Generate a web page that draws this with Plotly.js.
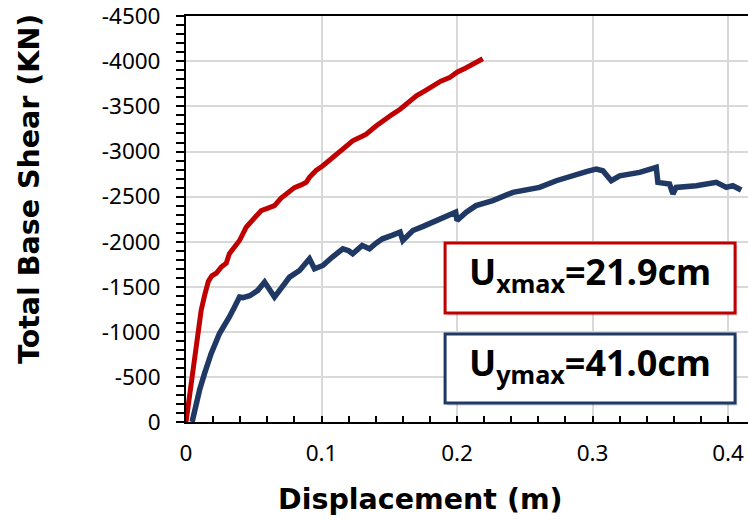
<!DOCTYPE html>
<html>
<head>
<meta charset="utf-8">
<script src="https://cdn.plot.ly/plotly-3.0.1.min.js"></script>
<style>html,body{margin:0;padding:0;background:#fff;}#chart{width:748px;height:520px;}</style>
</head>
<body>
<div id="chart"></div>
<script>
// Ux curve (red)
var uxDisp = [0, 0.0038, 0.0075, 0.0112, 0.0140, 0.0165, 0.0190, 0.0223, 0.0260, 0.0297, 0.0320, 0.0360, 0.0395, 0.0444, 0.0469, 0.0500, 0.0555, 0.0600, 0.0653, 0.0700, 0.0764, 0.0800, 0.0850, 0.0887, 0.0911, 0.0960, 0.1010, 0.1070, 0.1150, 0.1230, 0.1300, 0.1330, 0.1400, 0.1450, 0.1520, 0.1580, 0.1640, 0.1700, 0.1760, 0.1820, 0.1880, 0.1945, 0.2000, 0.2068, 0.2130, 0.2190];
var uxShear = [0, -430, -870, -1240, -1420, -1560, -1620, -1650, -1718, -1760, -1866, -1950, -2013, -2160, -2200, -2260, -2345, -2370, -2400, -2480, -2566, -2600, -2630, -2658, -2713, -2790, -2842, -2916, -3010, -3119, -3170, -3193, -3280, -3340, -3410, -3469, -3540, -3617, -3670, -3727, -3780, -3819, -3880, -3930, -3980, -4029];
// Uy curve (navy)
var uyDisp = [0.0045, 0.0070, 0.0100, 0.0137, 0.0186, 0.0247, 0.0280, 0.0320, 0.0360, 0.0395, 0.0420, 0.0444, 0.0470, 0.0493, 0.0530, 0.0580, 0.0615, 0.0653, 0.0700, 0.0764, 0.0838, 0.0911, 0.0948, 0.1010, 0.1080, 0.1157, 0.1200, 0.1230, 0.1300, 0.1354, 0.1400, 0.1450, 0.1520, 0.1580, 0.1600, 0.1674, 0.1750, 0.1820, 0.1900, 0.1990, 0.2000, 0.2068, 0.2140, 0.2264, 0.2412, 0.2500, 0.2609, 0.2732, 0.2820, 0.2904, 0.2960, 0.3027, 0.3076, 0.3138, 0.3200, 0.3347, 0.3470, 0.3482, 0.3568, 0.3593, 0.3617, 0.3765, 0.3913, 0.3987, 0.4035, 0.4097];
var uyShear = [0, -180, -354, -539, -760, -981, -1060, -1165, -1280, -1386, -1380, -1386, -1400, -1423, -1460, -1552, -1460, -1386, -1480, -1607, -1681, -1810, -1700, -1736, -1830, -1921, -1900, -1866, -1958, -1921, -1980, -2032, -2070, -2105, -2013, -2124, -2170, -2215, -2270, -2326, -2234, -2326, -2400, -2455, -2547, -2570, -2602, -2676, -2720, -2750, -2780, -2805, -2787, -2676, -2731, -2768, -2824, -2658, -2639, -2529, -2602, -2621, -2658, -2602, -2621, -2574];

var yTickVals = [0, -500, -1000, -1500, -2000, -2500, -3000, -3500, -4000, -4500];
var yTickText = ['0', '-500', '-1000', '-1500', '-2000', '-2500', '-3000', '-3500', '-4000', '-4500'];
var xTickVals = [0, 0.1, 0.2, 0.3, 0.4];
var xTickText = ['0', '0.1', '0.2', '0.3', '0.4'];

var xTitle = 'Displacement (m)';
var yTitle = 'Total Base Shear (KN)';
var boxLabels = ['U<sub>xmax</sub>=21.9cm', 'U<sub>ymax</sub>=41.0cm'];
var boxColors = ['#c00000', '#1f3864'];

var FONT = 'Noto Sans, Open Sans, sans-serif';
var TITLE_FONT = 'DejaVu Sans, Verdana, sans-serif';

var traces = [
  {x: uxDisp, y: uxShear, type: 'scatter', mode: 'lines', line: {color: '#c00000', width: 5}, showlegend: false, hoverinfo: 'skip'},
  {x: uyDisp, y: uyShear, type: 'scatter', mode: 'lines', line: {color: '#1f3864', width: 5.5}, showlegend: false, hoverinfo: 'skip'}
];

// plot area: top 16, bottom 422 (406 px tall), left 186, right 748
var PT = 16, PB = 422, PH = PB - PT;
function py(pix) { return (PB - pix) / PH; }
var boxY = [[py(313), py(243)], [py(403), py(334)]];
var shapes = [];
var annotations = [];
for (var i = 0; i < 2; i++) {
  shapes.push({type: 'rect', xref: 'paper', yref: 'paper', x0: 0.465, x1: 0.981, y0: boxY[i][0] - 0.007, y1: boxY[i][1] - 0.007,
    line: {width: 0}, fillcolor: 'rgba(0,0,0,0.15)', layer: 'above'});
  shapes.push({type: 'rect', xref: 'paper', yref: 'paper', x0: 0.461, x1: 0.977, y0: boxY[i][0], y1: boxY[i][1],
    line: {color: boxColors[i], width: 3}, fillcolor: '#ffffff', layer: 'above'});
  annotations.push({xref: 'paper', yref: 'paper', x: 0.719, y: (boxY[i][0] + boxY[i][1]) / 2 + 0.01,
    xanchor: 'center', yanchor: 'middle', showarrow: false, text: boxLabels[i],
    font: {family: FONT, size: 36, color: '#000', weight: 'bold'}});
}
annotations.push({xref: 'paper', yref: 'paper', x: (420 - 186) / 562, y: py(499), xanchor: 'center', yanchor: 'middle',
  showarrow: false, text: xTitle, font: {family: TITLE_FONT, size: 28.5, color: '#000', weight: 'bold'}});
annotations.push({xref: 'paper', yref: 'paper', x: (29 - 186) / 562, y: py(189), xanchor: 'center', yanchor: 'middle',
  showarrow: false, textangle: -90, text: yTitle, font: {family: TITLE_FONT, size: 28.5, color: '#000', weight: 'bold'}});

var layout = {
  width: 748, height: 520,
  margin: {l: 186, r: 0, t: PT, b: 520 - PB, pad: 0},
  paper_bgcolor: '#ffffff', plot_bgcolor: '#ffffff',
  font: {family: FONT, size: 22.5, color: '#000'},
  xaxis: {
    range: [0, 0.4147], autorange: false,
    tickmode: 'array', tickvals: xTickVals, ticktext: xTickText,
    ticks: 'inside', ticklen: 6, tickwidth: 2, tickcolor: '#000',
    minor: {dtick: 0.02, tick0: 0, ticks: 'inside', ticklen: 6, tickwidth: 2, tickcolor: '#000', showgrid: false},
    showline: true, linecolor: '#000', linewidth: 2, mirror: true,
    showgrid: true, gridcolor: '#d9d9d9', gridwidth: 2, zeroline: false,
    ticklabelstandoff: 10, ticklabeloverflow: 'allow',
    tickfont: {family: FONT, size: 22.5, color: '#000'}
  },
  yaxis: {
    range: [0, -4503], autorange: false,
    tickmode: 'array', tickvals: yTickVals, ticktext: yTickText,
    ticks: 'outside', ticklen: 8, tickwidth: 2, tickcolor: '#000',
    minor: {dtick: 100, tick0: 0, ticks: 'outside', ticklen: 8, tickwidth: 2, tickcolor: '#000', showgrid: false},
    showline: true, linecolor: '#000', linewidth: 2, mirror: false,
    showgrid: true, gridcolor: '#d9d9d9', gridwidth: 2, zeroline: false,
    ticklabelstandoff: 11, ticklabeloverflow: 'allow',
    tickfont: {family: FONT, size: 22.5, color: '#000'}
  },
  shapes: shapes,
  annotations: annotations
};

Plotly.newPlot('chart', traces, layout, {displayModeBar: false, staticPlot: true});
</script>
</body>
</html>
